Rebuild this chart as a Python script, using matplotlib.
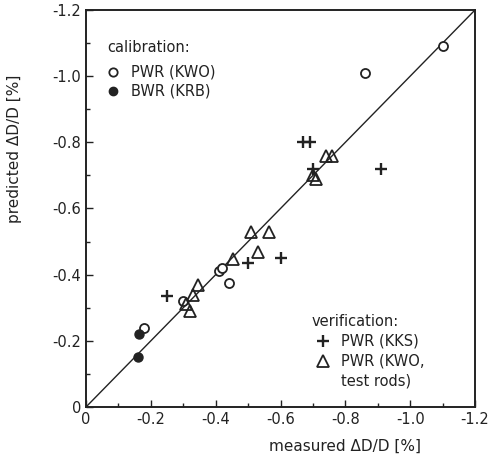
import matplotlib
matplotlib.use("Agg")
import matplotlib.pyplot as plt
import numpy as np

plt.rcParams["font.family"] = ["DejaVu Sans"]

# values are magnitudes of the (negative) dD/D in %
kwo_meas = [1.10, 0.86, 0.41, 0.42, 0.44, 0.30, 0.18]
kwo_pred = [1.09, 1.01, 0.41, 0.42, 0.375, 0.32, 0.24]

krb_meas = [0.165, 0.16]
krb_pred = [0.22, 0.15]

kks_meas = [0.67, 0.69, 0.91, 0.70, 0.60, 0.50, 0.25]
kks_pred = [0.80, 0.80, 0.72, 0.72, 0.45, 0.435, 0.335]

rods_meas = [0.74, 0.76, 0.70, 0.71, 0.51, 0.565, 0.53, 0.455, 0.345, 0.33, 0.31, 0.32]
rods_pred = [0.76, 0.76, 0.70, 0.69, 0.53, 0.53, 0.47, 0.447, 0.37, 0.34, 0.31, 0.29]

ticks = [0, 0.2, 0.4, 0.6, 0.8, 1.0, 1.2]
tick_labels = ["0", "-0.2", "-0.4", "-0.6", "-0.8", "-1.0", "-1.2"]

ink = "#222222"

fig = plt.figure(figsize=(4.98, 4.57), dpi=100)
ax = fig.add_axes([86 / 498, 50 / 457, 389 / 498, 397 / 457])

ax.plot([0, 1.2], [0, 1.2], color=ink, lw=1.0)

ax.plot(kwo_meas, kwo_pred, "o", mfc="white", mec=ink, mew=1.3, ms=6.5, ls="none")
ax.plot(krb_meas, krb_pred, "o", mfc=ink, mec=ink, ms=6.5, ls="none")
ax.plot(kks_meas, kks_pred, "+", mec=ink, mew=1.7, ms=8, ls="none")
ax.plot(rods_meas, rods_pred, "^", mfc="none", mec=ink, mew=1.3, ms=9, ls="none")

ax.set_xlim(0, 1.2)
ax.set_ylim(0, 1.2)
ax.set_xticks(ticks)
ax.set_yticks(ticks)
ax.set_xticklabels(tick_labels)
ax.set_yticklabels(tick_labels)
ax.set_xticks(np.arange(0.1, 1.2, 0.2), minor=True)
ax.set_yticks(np.arange(0.1, 1.2, 0.2), minor=True)
ax.tick_params(which="both", direction="in", color=ink, labelcolor=ink, labelsize=10.5)
ax.tick_params(which="major", length=5, width=1)
ax.tick_params(which="minor", length=3, width=1)
for s in ax.spines.values():
    s.set_linewidth(1.4)
    s.set_color(ink)

ax.set_xlabel("measured ΔD/D [%]", fontsize=11, color=ink)
ax.xaxis.set_label_coords(0.665, -0.08)
ax.set_ylabel("predicted ΔD/D [%]", fontsize=11, color=ink)
ax.yaxis.set_label_coords(-0.165, 0.65)

# legend drawn as text, as in the original figure
ax.text(0.055, 0.905, "calibration:", transform=ax.transAxes, fontsize=10.5, color=ink, va="center")
ax.plot([0.07], [0.845], "o", mfc="white", mec=ink, mew=1.3, ms=6, transform=ax.transAxes)
ax.text(0.115, 0.845, "PWR (KWO)", transform=ax.transAxes, fontsize=10.5, color=ink, va="center")
ax.plot([0.07], [0.795], "o", mfc=ink, mec=ink, ms=6, transform=ax.transAxes)
ax.text(0.115, 0.795, "BWR (KRB)", transform=ax.transAxes, fontsize=10.5, color=ink, va="center")

ax.text(0.58, 0.215, "verification:", transform=ax.transAxes, fontsize=10.5, color=ink, va="center")
ax.plot([0.61], [0.165], "+", mec=ink, mew=1.7, ms=8, transform=ax.transAxes)
ax.text(0.655, 0.165, "PWR (KKS)", transform=ax.transAxes, fontsize=10.5, color=ink, va="center")
ax.plot([0.61], [0.115], "^", mfc="none", mec=ink, mew=1.3, ms=8, transform=ax.transAxes)
ax.text(0.655, 0.115, "PWR (KWO,", transform=ax.transAxes, fontsize=10.5, color=ink, va="center")
ax.text(0.655, 0.065, "test rods)", transform=ax.transAxes, fontsize=10.5, color=ink, va="center")

fig.savefig("out.png", dpi=100)
